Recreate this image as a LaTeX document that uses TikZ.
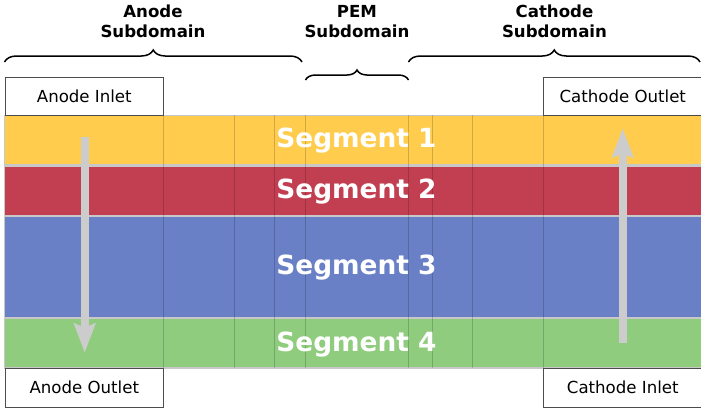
\documentclass[tikz,border=0pt]{standalone}
\usepackage{fontspec}
\setmainfont{DejaVu Sans}
\usetikzlibrary{arrows.meta,decorations.pathreplacing}
\definecolor{segyellow}{HTML}{FFCC4D}
\definecolor{segred}{HTML}{C13F50}
\definecolor{segblue}{HTML}{6A80C6}
\definecolor{seggreen}{HTML}{8FCC7E}
\definecolor{sepgray}{HTML}{C8C8C8}
\definecolor{flowgray}{HTML}{CCCCCC}
\definecolor{boxline}{HTML}{4D4D4D}
\begin{document}
\begin{tikzpicture}[x=1pt,y=-1pt,
  cellline/.style={draw=black, draw opacity=0.18, line width=1pt},
  iobox/.style={draw=boxline, line width=1.1pt, fill=white, anchor=north west,
    minimum width=158.5pt, minimum height=38.5pt, inner sep=0pt,
    font=\fontsize{16.6}{20}\selectfont},
  heading/.style={align=center, anchor=base, inner sep=0pt,
    font=\bfseries\fontsize{16.6}{20.5}\selectfont},
  seglabel/.style={text=white, anchor=base, inner sep=0pt,
    font=\bfseries\fontsize{26.4}{30}\selectfont},
  subbrace/.style={draw=black, line width=1.5pt, decorate,
    decoration={brace, amplitude=#1}},
  flow/.style={draw=flowgray, line width=8pt,
    -{Stealth[length=29pt, width=21pt, inset=4pt]}}]
\useasboundingbox (0,0) rectangle (701,408);

% segment bands on a light grey backdrop
\fill[sepgray] (3.5,114.5) rectangle (705,368.5);
\fill[segyellow] (5,115.5) rectangle (705,163.5);
\fill[segred] (5,166.5) rectangle (705,214.5);
\fill[segblue] (5,216.8) rectangle (705,316.7);
\fill[seggreen] (5,319.3) rectangle (705,366.8);

% cell boundaries across all segments
\foreach \x in {163,234,274,305.5,408.7,432,472,543}
  \draw[cellline] (\x,115) -- (\x,368);

% segment labels
\node[seglabel] (seg1) at (356.5,147.5) {Segment 1};
\node[seglabel] (seg2) at (356.5,198.5) {Segment 2};
\node[seglabel] (seg3) at (356.5,274.7) {Segment 3};
\node[seglabel] (seg4) at (356.5,351) {Segment 4};

% inlet and outlet boxes
\node[iobox] (anodeIn) at (4.5,76.7) {Anode Inlet};
\node[iobox] (cathodeOut) at (543,76.7) {Cathode Outlet};
\node[iobox] (anodeOut) at (4.5,368) {Anode Outlet};
\node[iobox] (cathodeIn) at (543,368) {Cathode Inlet};

% flow directions
\coordinate (anodeTop) at (84.7,137.3);
\coordinate (anodeBot) at (84.7,352.7);
\coordinate (cathodeBot) at (622.7,343);
\coordinate (cathodeTop) at (622.7,128.3);
\draw[flow] (anodeTop) -- (anodeBot);
\draw[flow] (cathodeBot) -- (cathodeTop);

% subdomain braces
\coordinate (anodeL) at (4.5,62);
\coordinate (anodeR) at (302,62);
\coordinate (pemL) at (305.5,80);
\coordinate (pemR) at (408.5,80);
\coordinate (cathodeL) at (408.5,62);
\coordinate (cathodeR) at (700,62);
\draw[subbrace=12pt] (anodeL) -- (anodeR);
\draw[subbrace=10pt] (pemL) -- (pemR);
\draw[subbrace=12pt] (cathodeL) -- (cathodeR);

% subdomain headings (base anchor sits on the second line)
\node[heading] (anodeHead) at (153,37.8) {Anode\\Subdomain};
\node[heading] (pemHead) at (357,37.8) {PEM\\Subdomain};
\node[heading] (cathodeHead) at (554.5,37.8) {Cathode\\Subdomain};
\end{tikzpicture}
\end{document}
